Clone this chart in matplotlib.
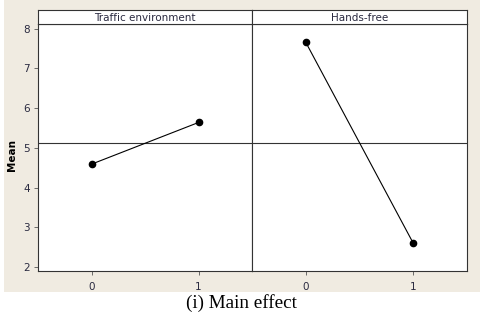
import matplotlib
matplotlib.use("Agg")
import matplotlib.pyplot as plt
from matplotlib.patches import Rectangle

# Data
factors = ["Traffic environment", "Hands-free"]
levels = ["0", "1"]
traffic_means = [4.59, 5.64]
handsfree_means = [7.66, 2.60]
series = [traffic_means, handsfree_means]
y_ticks = [2, 3, 4, 5, 6, 7, 8]
grand_mean = sum(traffic_means + handsfree_means) / 4

W, H = 480, 314
fig = plt.figure(figsize=(W / 100, H / 100), dpi=100)
fig.patch.set_facecolor("white")

bg = "#f0ebe1"
fig.patches.append(Rectangle((4 / W, 1 - 292 / H), 1 - 4 / W, 292 / H,
                             transform=fig.transFigure, facecolor=bg,
                             edgecolor="none", zorder=-10))

tick_color = "#2a2a40"
left0 = 38
divider = 252
right = 467
top_hdr = 10
top_data = 24
bottom = 271

panel_edges = [(left0, divider), (divider, right)]
for i, ((xl, xr), name, vals) in enumerate(zip(panel_edges, factors, series)):
    ax = fig.add_axes([xl / W, 1 - bottom / H, (xr - xl) / W, (bottom - top_data) / H])
    ax.set_facecolor("white")
    xs = list(range(len(levels)))
    ax.plot(xs, vals, color="black", lw=0.8, marker="o", markersize=4.5,
            markerfacecolor="black", markeredgecolor="black", zorder=3)
    ax.axhline(grand_mean, color="#333333", lw=0.8, zorder=2)
    ax.set_xlim(-0.5, 1.5)
    ax.set_ylim(1.9, 8.12)
    ax.set_xticks(xs)
    ax.set_xticklabels(levels, fontsize=7.5, color=tick_color)
    if i == 0:
        ax.set_yticks(y_ticks)
        ax.set_yticklabels([str(t) for t in y_ticks], fontsize=7.5, color=tick_color)
        ax.set_ylabel("Mean", fontsize=7.5, fontweight="bold", color="black")
        ax.yaxis.set_label_coords(-21 / (xr - xl), 0.47)
        ax.tick_params(axis="y", length=3, width=0.6, pad=3, color="#555555")
    else:
        ax.set_yticks([])
    ax.tick_params(axis="x", length=3, width=0.6, pad=5, color="#555555")
    for s in ax.spines.values():
        s.set_linewidth(0.8)
        s.set_color("#333333")

    hax = fig.add_axes([xl / W, 1 - top_data / H, (xr - xl) / W, (top_data - top_hdr) / H])
    hax.set_facecolor("white")
    hax.set_xticks([])
    hax.set_yticks([])
    for s in hax.spines.values():
        s.set_linewidth(0.8)
        s.set_color("#333333")
    hax.text(0.5, 0.45, name, ha="center", va="center", fontsize=7.5,
             color=tick_color, transform=hax.transAxes)

fig.text(241 / W, 1 - 303 / H, "(i) Main effect", ha="center", va="center",
         fontsize=13.8, family="Liberation Serif", color="black")

fig.savefig("out.png", dpi=100)
